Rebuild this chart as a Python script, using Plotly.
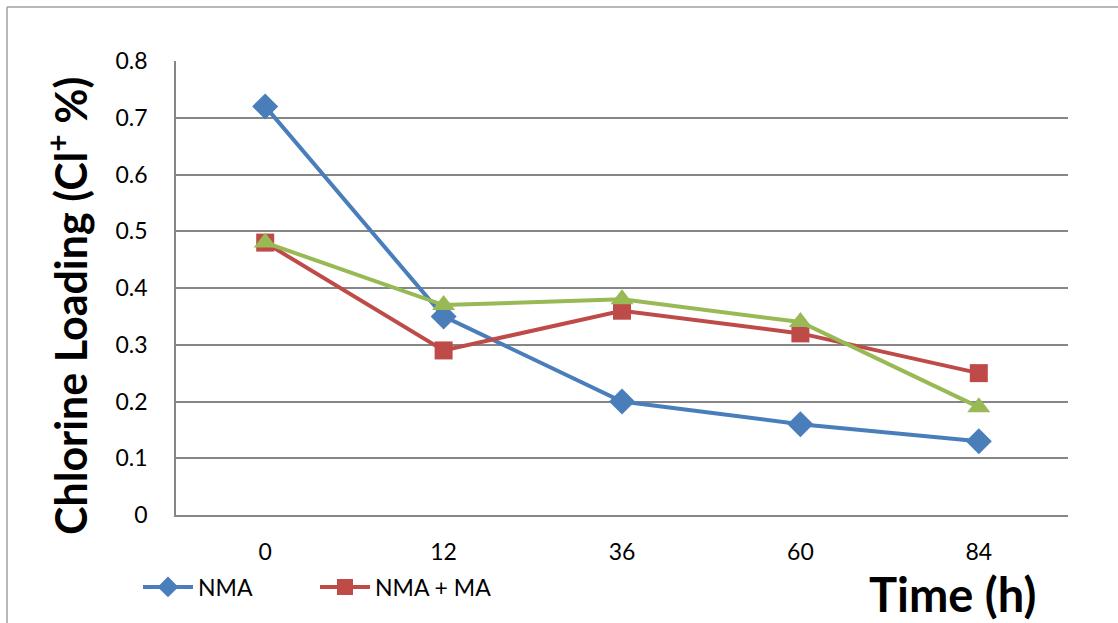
import plotly.graph_objects as go

times = ["0", "12", "36", "60", "84"]
nma = [0.72, 0.35, 0.20, 0.16, 0.13]
nma_ma = [0.48, 0.29, 0.36, 0.32, 0.25]
third = [0.48, 0.37, 0.38, 0.34, 0.19]
y_ticks = [0, 0.1, 0.2, 0.3, 0.4, 0.5, 0.6, 0.7, 0.8]

W, H = 1118, 623
ML, MR, MT, MB = 176, 50, 61, 108
PW, PH = W - ML - MR, H - MT - MB

def px(x):
    return (x - ML) / PW

def py(y):
    return (H - MB - y) / PH

fig = go.Figure()
fig.add_trace(go.Scatter(x=times, y=nma, name="NMA", mode="lines+markers",
                         line=dict(color="#4A7EBB", width=4),
                         marker=dict(symbol="diamond", size=20, color="#4A7EBB")))
fig.add_trace(go.Scatter(x=times, y=nma_ma, name="NMA + MA", mode="lines+markers",
                         line=dict(color="#BE4B48", width=4),
                         marker=dict(symbol="square", size=18, color="#BE4B48")))
fig.add_trace(go.Scatter(x=times, y=third, name="", mode="lines+markers", showlegend=False,
                         line=dict(color="#98B954", width=4),
                         marker=dict(symbol="triangle-up", size=20, color="#98B954")))

font = "Lato, 'Open Sans', sans-serif"
fig.update_layout(
    width=W, height=H,
    margin=dict(l=ML, r=MR, t=MT, b=MB, autoexpand=False),
    paper_bgcolor="white", plot_bgcolor="white",
    font=dict(family=font, size=24, color="black"),
    showlegend=True,
    legend=dict(orientation="h", x=px(138), y=py(587), xanchor="left", yanchor="middle",
                font=dict(size=23, family=font), entrywidth=112, entrywidthmode="pixels",
                bgcolor="rgba(0,0,0,0)", itemwidth=50),
    xaxis=dict(type="category", range=[-0.5, 4.5], showgrid=False, showline=True,
               linecolor="#868686", linewidth=1.5, ticks="", tickfont=dict(size=23),
               fixedrange=True, zeroline=False, ticklabelstandoff=16),
    yaxis=dict(range=[0, 0.8], tickvals=y_ticks, ticktext=[f"{v:g}" for v in y_ticks],
               showgrid=True, gridcolor="#868686", gridwidth=1.5, showline=True,
               linecolor="#868686", linewidth=1.5, ticks="", tickfont=dict(size=23),
               zeroline=False, ticklabelstandoff=22),
    annotations=[
        dict(text="<b>Chlorine Loading (Cl<sup>+</sup> %)</b>", xref="paper", yref="paper",
             x=px(67), y=py(306), xanchor="center", yanchor="middle",
             textangle=-90, showarrow=False,
             font=dict(size=43, family=font, color="black")),
        dict(text="<b>Time (h)</b>", xref="paper", yref="paper",
             x=px(952), y=py(594), xanchor="center", yanchor="middle", showarrow=False,
             font=dict(size=47, family=font, color="black")),
    ],
    shapes=[
        dict(type="line", xref="paper", yref="paper", x0=px(7), x1=px(7), y0=py(7), y1=py(640),
             line=dict(color="#A0A0A0", width=1.5)),
        dict(type="line", xref="paper", yref="paper", x0=px(7), x1=px(1130), y0=py(7), y1=py(7),
             line=dict(color="#A0A0A0", width=1.5)),
    ],
)

fig.write_html("out.html", config={"displayModeBar": False},
               post_script="document.body.style.margin='0';document.body.style.overflow='hidden';")
